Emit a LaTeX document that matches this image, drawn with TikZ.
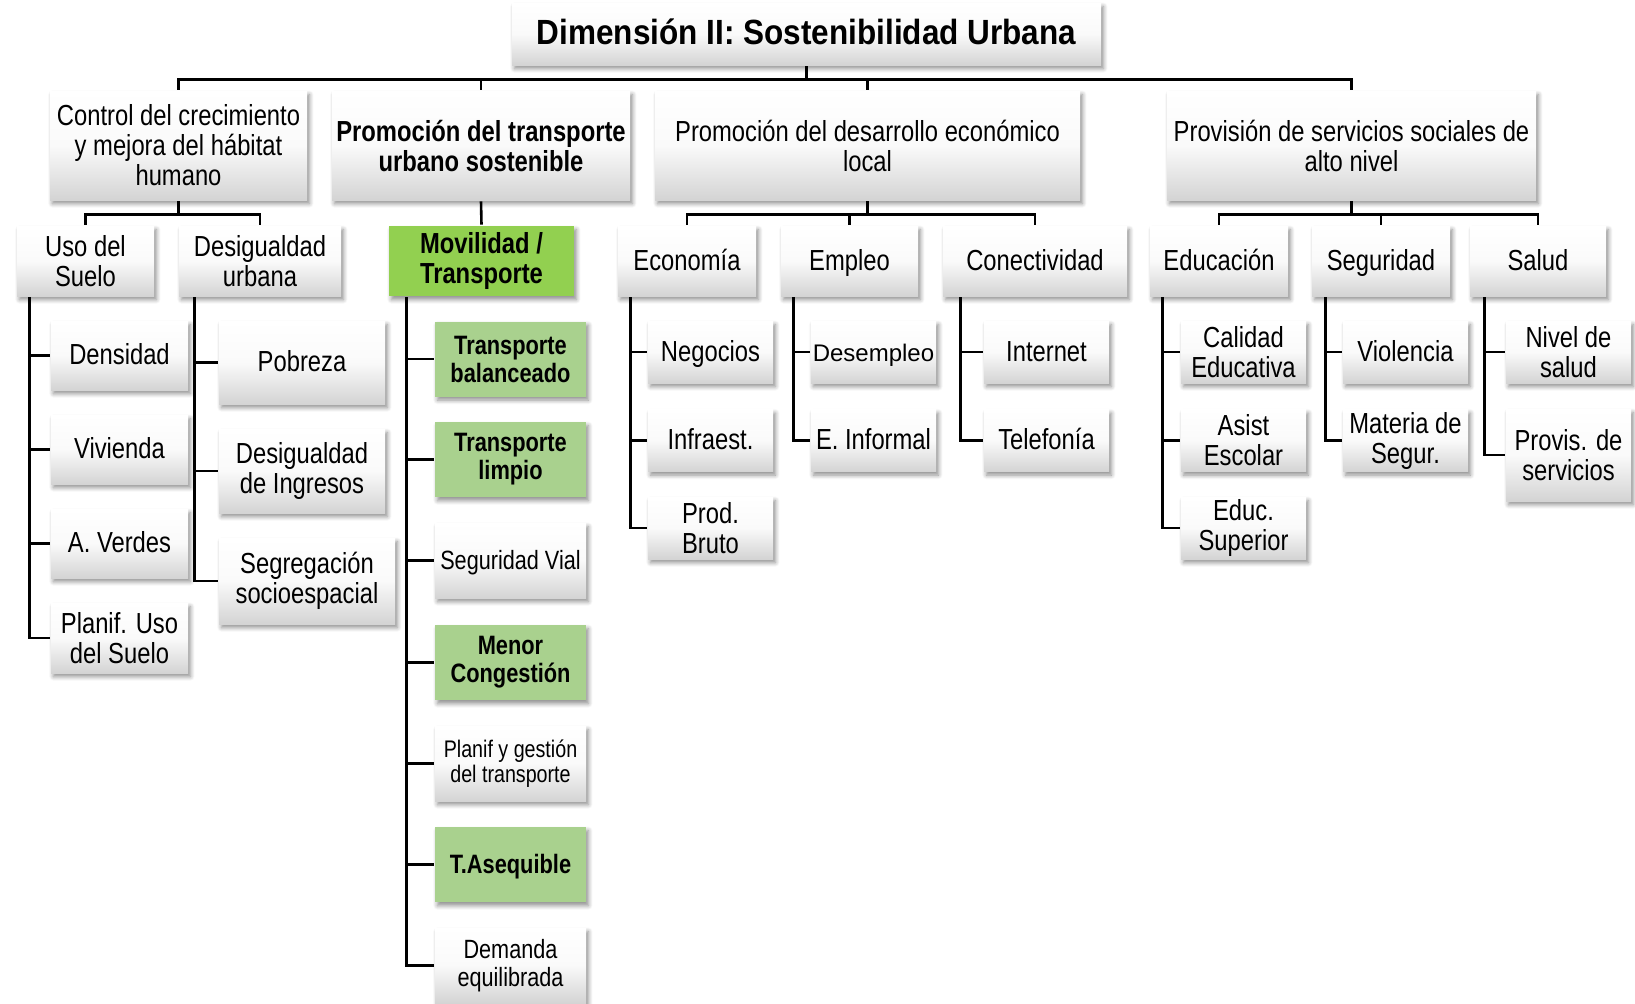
\documentclass[tikz,border=0pt]{standalone}
\usepackage{fontspec}
\setmainfont[FakeStretch=0.82]{Liberation Sans}
\newfontfamily\titlefont[FakeStretch=0.9]{Liberation Sans}
\newfontfamily\widefont{Liberation Sans}
\usetikzlibrary{shadows.blur}
\definecolor{movgreen}{HTML}{92D050}
\definecolor{softgreen}{HTML}{A9D18E}
\tikzset{
  boxbase/.style={align=center, inner sep=1pt,
    blur shadow={shadow xshift=1.2pt, shadow yshift=-1.8pt, shadow blur steps=6, shadow opacity=45}},
  box/.style={boxbase, top color=white, bottom color=black!17, middle color=black!2},
  gbox/.style={boxbase, fill=movgreen, font=\fontsize{14.5}{15}\selectfont\bfseries},
  lgbox/.style={boxbase, fill=softgreen, font=\fontsize{13.3}{14}\selectfont\bfseries},
  boxsize/.style 2 args={minimum width=#1*0.5pt, minimum height=#2*0.5pt},
  oneline/.style={text height=9pt, text depth=0pt},
  small/.style={font=\fontsize{13.2}{14}\selectfont},
}
\begin{document}
\begin{tikzpicture}
  [x=0.5pt,y=-0.5pt,font=\fontsize{14.5}{15}\selectfont,line width=1.3pt]
  \useasboundingbox (0,0) rectangle (1635,1003);

  % title
  \node[box,boxsize={589}{62},text height=10pt,text depth=0pt,font=\titlefont\bfseries\fontsize{17.5}{20}\selectfont] (title) at (806.5,34) {Dimensión II: Sostenibilidad Urbana};

  % first level
  \node[box,boxsize={257}{109}] (ctrl) at (178.5,145.5) {Control del crecimiento\\y mejora del hábitat\\humano};
  \node[box,boxsize={298}{109},font=\fontsize{14.5}{15}\selectfont\bfseries] (ptrans) at (481,145.5) {Promoción del transporte\\urbano sostenible};
  \node[box,boxsize={425}{109}] (pdes) at (867.5,145.5) {Promoción del desarrollo económico\\local};
  \node[box,boxsize={369}{109}] (prov) at (1351.5,145.5) {Provisión de servicios sociales de\\alto nivel};

  % second level
  \node[box,boxsize={137}{70}] (uso) at (85.5,261) {Uso del\\Suelo};
  \node[box,boxsize={162}{70}] (desig) at (260,261) {Desigualdad\\urbana};
  \node[gbox,boxsize={185}{70}] (movil) at (481.5,261) {Movilidad /\\Transporte};
  \node[box,oneline,boxsize={138}{70}] (econ) at (687,261) {Economía};
  \node[box,oneline,boxsize={137}{70}] (empleo) at (849.5,261) {Empleo};
  \node[box,oneline,boxsize={184}{70}] (conect) at (1035,261) {Conectividad};
  \node[box,oneline,boxsize={138}{70}] (educ) at (1219,261) {Educación};
  \node[box,oneline,boxsize={138}{70}] (segur) at (1381,261) {Seguridad};
  \node[box,oneline,boxsize={136}{70}] (salud) at (1538,261) {Salud};

  % third level
  \node[box,oneline,boxsize={137}{69}] (dens) at (119.5,355.5) {Densidad};
  \node[box,oneline,boxsize={137}{69}] (viv) at (119.5,449.5) {Vivienda};
  \node[box,oneline,boxsize={137}{69}] (verdes) at (119.5,543.5) {A. Verdes};
  \node[box,boxsize={137}{70}] (planif) at (119.5,638) {Planif. Uso\\del Suelo};

  \node[box,oneline,boxsize={166}{83}] (pobreza) at (302,362.5) {Pobreza};
  \node[box,boxsize={166}{84}] (ingresos) at (302,471) {Desigualdad\\de Ingresos};
  \node[box,boxsize={176}{86}] (segreg) at (307,581) {Segregación\\socioespacial};

  \node[lgbox,boxsize={151}{75}] (tbal) at (510.5,359) {Transporte\\balanceado};
  \node[lgbox,boxsize={151}{75}] (tlimp) at (510.5,459.5) {Transporte\\limpio};
  \node[box,small,oneline,boxsize={151}{75}] (svial) at (510.5,560.5) {Seguridad Vial};
  \node[lgbox,boxsize={151}{75}] (congest) at (510.5,662.5) {Menor\\Congestión};
  \node[box,boxsize={151}{75},font=\fontsize{12}{12.5}\selectfont] (gestion) at (510.5,763.5) {Planif y gestión\\del transporte};
  \node[lgbox,oneline,boxsize={151}{75}] (aseq) at (510.5,864.5) {T.Asequible};
  \node[box,small,boxsize={151}{75}] (demanda) at (510.5,965.5) {Demanda\\equilibrada};

  \node[box,oneline,boxsize={125}{62}] (negocios) at (710.5,352) {Negocios};
  \node[box,oneline,boxsize={125}{62}] (infra) at (710.5,440.5) {Infraest.};
  \node[box,boxsize={125}{62}] (prod) at (710.5,528) {Prod.\\Bruto};

  \node[box,oneline,boxsize={125}{62},font=\widefont\fontsize{12}{13}\selectfont] (desemp) at (873.5,352) {Desempleo};
  \node[box,oneline,boxsize={125}{62}] (informal) at (873.5,440.5) {E. Informal};

  \node[box,oneline,boxsize={125}{62}] (internet) at (1046.5,352) {Internet};
  \node[box,oneline,boxsize={125}{62}] (telef) at (1046.5,440.5) {Telefonía};

  \node[box,boxsize={125}{62}] (calidad) at (1243.5,352) {Calidad\\Educativa};
  \node[box,boxsize={125}{62}] (asist) at (1243.5,440.5) {Asist\\Escolar};
  \node[box,boxsize={125}{62}] (superior) at (1243.5,528) {Educ.\\Superior};

  \node[box,oneline,boxsize={125}{62}] (violencia) at (1405.5,352) {Violencia};
  \node[box,boxsize={125}{62}] (materia) at (1405.5,440.5) {Materia de\\Segur.};

  \node[box,boxsize={125}{62}] (nivel) at (1568.5,352) {Nivel de\\salud};
  \node[box,boxsize={125}{92}] (provis) at (1568.5,455) {Provis. de\\servicios};

  % connectors
  \foreach \to in {ctrl,ptrans,pdes,prov}
    \draw (title.south) -- +(0,13) -| (\to.north);
  \foreach \from/\to in {ctrl/uso,ctrl/desig,pdes/econ,pdes/empleo,pdes/conect,prov/educ,prov/segur,prov/salud}
    \draw (\from.south) -- +(0,13) -| (\to.north);
  \draw (ptrans.south) -- (movil.north);

  \foreach \from/\off/\kids in {uso/7/{dens,viv,verdes,planif},
      desig/8.5/{pobreza,ingresos,segreg},
      movil/9.5/{tbal,tlimp,svial,congest,gestion,aseq,demanda},
      econ/7/{negocios,infra,prod},empleo/7/{desemp,informal},
      conect/9.5/{internet,telef},educ/7/{calidad,asist,superior},
      segur/7.5/{violencia,materia},salud/8/{nivel,provis}}
    \foreach \to in \kids
      \draw ([xshift=\off pt]\from.south west) |- (\to.west);
\end{tikzpicture}
\end{document}
